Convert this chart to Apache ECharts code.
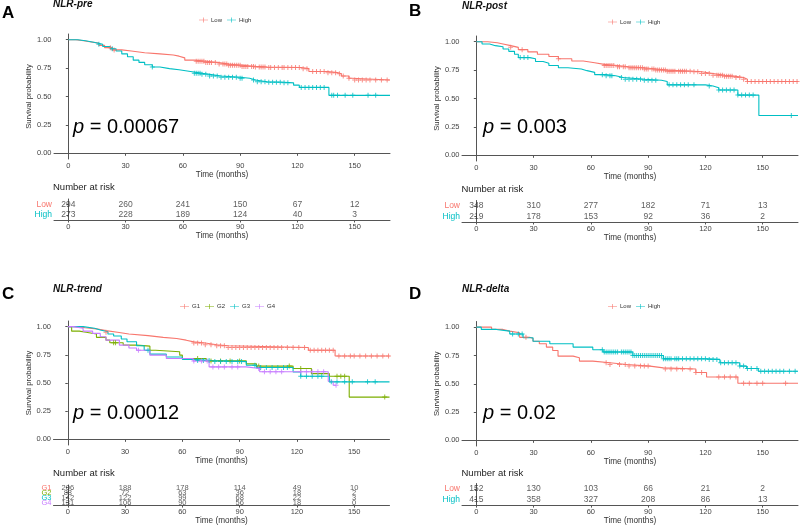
<!DOCTYPE html>
<html>
<head>
<meta charset="utf-8">
<script src="https://cdn.jsdelivr.net/npm/echarts@6.0.0/dist/echarts.min.js"></script>
<style>
  html, body { margin: 0; padding: 0; background: #fff; }
  #km { width: 800px; height: 526px; }
</style>
</head>
<body>
<div id="km"></div>
<script>
const FONT = '"Liberation Sans", Arial, sans-serif'
const lowCol = '#F8766D'
const highCol = '#00BFC4'
const gCols = ['#F8766D', '#7CAE00', '#00BFC4', '#C77CFF']

const xTicks = [0, 30, 60, 90, 120, 150]
const yTicks = [0, 0.25, 0.5, 0.75, 1]
const riskTimes = [0, 30, 60, 90, 120, 150]

// ---- A: NLR-pre ----
const preLow = [[0,1],[4,0.99],[8,0.98],[12,0.97],[16,0.95],[19,0.93],[23,0.91],[28,0.90],[33,0.885],[40,0.875],[48,0.865],[55,0.855],[58,0.84],[61,0.82],[66,0.81],[72,0.80],[78,0.785],[84,0.775],[91,0.765],[98,0.76],[104,0.755],[122,0.745],[126,0.72],[136,0.71],[141,0.70],[143,0.68],[147,0.66],[148.5,0.645],[168.5,0.645]]
const preHigh = [[0,1],[5,0.99],[9,0.975],[14,0.96],[18,0.94],[22,0.92],[25,0.90],[28,0.875],[31,0.85],[34,0.82],[37,0.80],[40,0.78],[44,0.76],[48,0.745],[53,0.735],[58,0.72],[64,0.705],[70,0.695],[74,0.68],[80,0.67],[90,0.66],[95,0.645],[98,0.63],[104,0.625],[113,0.62],[118,0.60],[121,0.58],[136.5,0.51],[168.5,0.51]]
const preLowCens = [22,24,67,68,69,70,71,72,73,74,75,77,79,81,82,83,84,85,86,87,88,89,90,91,92,93,94,96,97,98,100,101,102,103,105,106,108,110,112,113,115,117,119,121,123,125,128,130,132,134,136,138,140,142,144,147,150,152,154,156,158,161,164,167]
const preHighCens = [16,23,44,66,67,68,69,70,72,74,76,78,80,82,84,86,88,90,91,97,99,101,103,105,107,109,111,113,115,122,124,126,128,130,132,134,138,139,141,145,149,157,161]
const preLowRisk = [294, 260, 241, 150, 67, 12]
const preHighRisk = [273, 228, 189, 124, 40, 3]

// ---- B: NLR-post ----
const postLow = [[0,1],[6,0.99],[11,0.98],[14,0.965],[18,0.95],[22,0.93],[27,0.91],[32,0.89],[38,0.87],[43,0.85],[50,0.83],[56,0.815],[62,0.80],[67,0.79],[74,0.78],[80,0.77],[88,0.76],[94,0.75],[100,0.74],[114,0.735],[118,0.72],[124,0.705],[130,0.695],[136,0.685],[140,0.67],[142,0.65],[168.5,0.65]]
const postHigh = [[0,1],[3,0.98],[7,0.965],[10,0.955],[14,0.935],[17,0.915],[20,0.89],[22,0.86],[28,0.85],[31,0.825],[35,0.81],[38,0.79],[43,0.77],[48,0.76],[55,0.745],[58,0.73],[62,0.71],[68,0.70],[73,0.685],[77,0.67],[88,0.66],[97,0.65],[100,0.62],[120,0.61],[124,0.595],[127,0.575],[137,0.53],[148,0.35],[168.5,0.35]]
const postLowCens = [18,24,43,67,68,69,70,71,72,74,75,77,78,80,81,82,83,84,85,86,87,88,89,90,92,93,94,95,96,97,98,99,100,101,102,103,104,106,107,108,109,110,112,114,116,118,120,122,124,126,127,128,129,130,131,132,133,134,136,138,140,142,144,146,148,150,152,154,156,158,160,162,164,166,168]
const postHighCens = [23,25,27,66,68,70,71,76,78,80,82,84,86,88,90,92,94,101,103,105,107,109,111,114,122,127,129,131,133,135,137,139,141,143,145,165]
const postLowRisk = [348, 310, 277, 182, 71, 13]
const postHighRisk = [219, 178, 153, 92, 36, 2]

// ---- C: NLR-trend ----
const trendG1 = [[0,1],[4,0.99],[9,0.98],[15,0.965],[20,0.95],[26,0.935],[32,0.92],[42,0.905],[50,0.895],[57,0.88],[62,0.865],[66,0.855],[72,0.84],[78,0.83],[84,0.815],[126,0.79],[140,0.74],[168.5,0.74]]
const trendG2 = [[0,1],[2,0.96],[6,0.95],[9.6,0.935],[15,0.905],[20,0.88],[22,0.857],[29,0.836],[36,0.827],[43,0.79],[46,0.777],[58.6,0.747],[60,0.717],[72.5,0.696],[93.5,0.67],[98.8,0.65],[118,0.628],[127.6,0.583],[137,0.56],[147.4,0.375],[168.5,0.375]]
const trendG3 = [[0,1],[8,0.985],[14,0.97],[17,0.955],[21,0.935],[24,0.917],[28,0.89],[31,0.866],[36,0.83],[40,0.79],[43,0.756],[51.6,0.73],[60,0.71],[65.6,0.70],[76,0.69],[93.5,0.657],[98.8,0.637],[118,0.598],[122,0.56],[137,0.51],[168.5,0.51]]
const trendG4 = [[0,1],[3,0.985],[8,0.96],[13,0.94],[17,0.91],[20,0.88],[27,0.836],[32,0.81],[36,0.79],[43,0.747],[51.6,0.717],[65.6,0.696],[74,0.643],[93.5,0.628],[100.5,0.60],[136.4,0.515],[139,0.48],[140.5,0.48]]
const trendG1Cens = [20,66,68,70,72,75,78,80,82,84,86,88,90,92,94,96,98,100,102,104,106,108,110,112,115,118,121,124,127,129,131,133,135,137,139,142,145,148,150,153,156,159,162,165,168]
const trendG2Cens = [24,25,68,75,80,85,90,100,116,122,141,143,145,166]
const trendG3Cens = [42,68,71,74,77,80,83,86,89,91,98,101,104,107,110,113,115,122,125,128,131,133,138,141,145,149,157,161]
const trendG4Cens = [37,66,70,73,76,79,82,86,89,100,103,106,109,112,122,125,128,131,134,140.5]
const trendG1Risk = [206, 188, 178, 114, 49, 10]
const trendG2Risk = [88, 72, 63, 36, 18, 2]
const trendG3Risk = [142, 122, 99, 68, 22, 3]
const trendG4Risk = [131, 106, 90, 56, 18, 0]

// ---- D: NLR-delta ----
const deltaLow = [[0,1],[8,0.98],[14,0.965],[17.5,0.95],[22.7,0.91],[28,0.90],[29.7,0.876],[33,0.853],[36.7,0.824],[40,0.794],[42.8,0.744],[50.7,0.73],[54,0.70],[61,0.685],[70,0.67],[78.7,0.656],[91,0.64],[98,0.63],[115,0.60],[120.6,0.56],[137,0.505],[168.5,0.505]]
const deltaHigh = [[0,1],[2.6,0.98],[10.5,0.965],[17.5,0.94],[24.5,0.906],[29.7,0.876],[38.5,0.853],[50.7,0.824],[61,0.80],[66.4,0.78],[82,0.75],[98,0.72],[122,0.715],[127.6,0.685],[138,0.656],[141.6,0.635],[147.7,0.61],[168.5,0.61]]
const deltaLowCens = [26,68,70,75,78,80,83,86,88,90,99,102,105,108,112,115,118,127,130,133,136,140,143,147,150,162]
const deltaHighCens = [19,22,24,66,67,68,69,70,71,72,73,74,76,77,78,79,80,81,82,83,84,85,86,87,88,89,90,91,92,93,94,95,96,97,98,99,100,101,102,104,105,106,108,110,112,114,116,118,120,122,124,126,128,130,132,134,136,138,140,142,144,147,149,151,153,155,157,159,161,164,167]
const deltaLowRisk = [152, 130, 103, 66, 21, 2]
const deltaHighRisk = [415, 358, 327, 208, 86, 13]

// step value of a curve at time t (used to sit censor marks on the curve)
const stepAt = (curve, t) => {
  let y = curve[0][1]
  curve.forEach(([x, v]) => { if (x <= t) y = v })
  return y
}

const panels = [
  { letter: 'A', title: 'NLR-pre', p: '0.00067',
    main: { left: 54, top: 34, height: 125 }, risk: { left: 54, top: 199, height: 21 },
    letterPos: [2, 5], titlePos: [53, -1], legendPos: [199, 17], pPos: [73, 117], nrPos: [53, 182.5],
    riskFont: 8.5,
    groups: [
      { name: 'Low', color: lowCol, curve: preLow, cens: preLowCens, risk: preLowRisk },
      { name: 'High', color: highCol, curve: preHigh, cens: preHighCens, risk: preHighRisk }
    ] },
  { letter: 'B', title: 'NLR-post', p: '0.003',
    main: { left: 462, top: 36, height: 125 }, risk: { left: 462, top: 200.5, height: 21.5 },
    letterPos: [409, 3], titlePos: [462, 1], legendPos: [608, 19], pPos: [483, 117.5], nrPos: [461.5, 184],
    riskFont: 8.5,
    groups: [
      { name: 'Low', color: lowCol, curve: postLow, cens: postLowCens, risk: postLowRisk },
      { name: 'High', color: highCol, curve: postHigh, cens: postHighCens, risk: postHighRisk }
    ] },
  { letter: 'C', title: 'NLR-trend', p: '0.00012',
    main: { left: 53.5, top: 321, height: 124 }, risk: { left: 53.5, top: 485, height: 21 },
    letterPos: [2, 286], titlePos: [53, 284.5], legendPos: [180, 303.5], pPos: [73, 403], nrPos: [53, 468.5],
    riskFont: 7.5,
    groups: [
      { name: 'G1', color: gCols[0], curve: trendG1, cens: trendG1Cens, risk: trendG1Risk },
      { name: 'G2', color: gCols[1], curve: trendG2, cens: trendG2Cens, risk: trendG2Risk },
      { name: 'G3', color: gCols[2], curve: trendG3, cens: trendG3Cens, risk: trendG3Risk },
      { name: 'G4', color: gCols[3], curve: trendG4, cens: trendG4Cens, risk: trendG4Risk }
    ] },
  { letter: 'D', title: 'NLR-delta', p: '0.02',
    main: { left: 462, top: 321.5, height: 124.5 }, risk: { left: 462, top: 483.5, height: 22.5 },
    letterPos: [409, 286], titlePos: [462, 284.5], legendPos: [608, 303.5], pPos: [483, 403], nrPos: [461.5, 468.5],
    riskFont: 8.5,
    groups: [
      { name: 'Low', color: lowCol, curve: deltaLow, cens: deltaLowCens, risk: deltaLowRisk },
      { name: 'High', color: highCol, curve: deltaHigh, cens: deltaHighCens, risk: deltaHighRisk }
    ] }
]

const PLOT_W = 336
const axisCol = '#555'
const plusSym = 'path://M0,4h10v2h-10z M4,0h2v10h-2z'
const legendIcon = 'path://M0,4.4h18v1.2h-18z M8.4,0h1.2v10h-1.2z'

const grid = [], xAxis = [], yAxis = [], series = [], legend = [], title = []

const timeAxis = (gi) => ({
  type: 'value', gridIndex: gi, min: -7.5, max: 168.5,
  name: 'Time (months)', nameLocation: 'middle', nameGap: 11,
  nameTextStyle: { fontSize: 8.2, color: '#333', fontFamily: FONT },
  axisLine: { show: true, lineStyle: { color: axisCol, width: 1 } },
  axisTick: { show: true, length: 2.5, customValues: xTicks, lineStyle: { color: axisCol } },
  axisLabel: { customValues: xTicks, fontSize: 7.5, color: '#444', margin: 3, fontFamily: FONT },
  splitLine: { show: false }
})

panels.forEach((pn, k) => {
  const gMain = k * 2, gRisk = k * 2 + 1
  grid.push({ left: pn.main.left, top: pn.main.top, width: PLOT_W, height: pn.main.height })
  grid.push({ left: pn.risk.left, top: pn.risk.top, width: PLOT_W, height: pn.risk.height })

  xAxis.push(timeAxis(gMain))
  xAxis.push(timeAxis(gRisk))

  yAxis.push({
    type: 'value', gridIndex: gMain, min: -0.05, max: 1.05,
    name: 'Survival probability', nameLocation: 'middle', nameGap: 20,
    nameTextStyle: { fontSize: 7.7, color: '#333', fontFamily: FONT },
    axisLine: { show: true, lineStyle: { color: axisCol, width: 1 } },
    axisTick: { show: true, length: 2.5, customValues: yTicks, lineStyle: { color: axisCol } },
    axisLabel: { customValues: yTicks, fontSize: 7.5, color: '#444', margin: 2.5, fontFamily: FONT,
      formatter: v => v.toFixed(2) },
    splitLine: { show: false }
  })

  const names = pn.groups.map(g => g.name)
  const colorOf = {}
  pn.groups.forEach(g => { colorOf[g.name] = g.color })
  yAxis.push({
    type: 'category', gridIndex: gRisk, data: names.slice().reverse(),
    axisLine: { show: true, lineStyle: { color: axisCol, width: 1 } },
    axisTick: { show: true, length: 2, alignWithLabel: true, interval: 0, lineStyle: { color: axisCol } },
    axisLabel: { interval: 0, fontSize: pn.riskFont, margin: 2, fontFamily: FONT, color: v => colorOf[v] },
    splitLine: { show: false }
  })

  pn.groups.forEach(g => {
    series.push({
      name: g.name, type: 'line', step: 'end', xAxisIndex: gMain, yAxisIndex: gMain,
      data: g.curve, showSymbol: false, silent: true, z: 3,
      lineStyle: { color: g.color, width: 1.1 }, itemStyle: { color: g.color }
    })
    series.push({
      name: g.name, type: 'scatter', xAxisIndex: gMain, yAxisIndex: gMain,
      data: g.cens.map(t => [t, stepAt(g.curve, t)]),
      symbol: plusSym, symbolSize: 5, silent: true, z: 4,
      itemStyle: { color: g.color }
    })
    series.push({
      name: 'risk-' + pn.letter + '-' + g.name, type: 'scatter', xAxisIndex: gRisk, yAxisIndex: gRisk,
      data: riskTimes.map((t, i) => [t, g.name, g.risk[i]]),
      symbolSize: 0, silent: true,
      label: { show: true, position: 'inside', formatter: p => p.value[2],
        fontSize: pn.riskFont, color: '#333', fontFamily: FONT }
    })
  })

  legend.push({
    data: names, left: pn.legendPos[0], top: pn.legendPos[1], padding: 0,
    icon: legendIcon, itemWidth: 9, itemHeight: 6, itemGap: 5, selectedMode: false,
    textStyle: { fontSize: 6, color: '#333', fontFamily: FONT, padding: [0, 0, 0, -2] }
  })

  title.push({ text: pn.letter, left: pn.letterPos[0], top: pn.letterPos[1], padding: 0,
    textStyle: { fontSize: 17, fontWeight: 'bold', color: '#000', fontFamily: FONT } })
  title.push({ text: pn.title, left: pn.titlePos[0], top: pn.titlePos[1], padding: 0,
    textStyle: { fontSize: 10, fontWeight: 'bold', fontStyle: 'italic', color: '#111', fontFamily: FONT } })
  title.push({ text: '{i|p} = ' + pn.p, left: pn.pPos[0], top: pn.pPos[1], padding: 0,
    textStyle: { fontSize: 20, fontWeight: 'normal', color: '#000', fontFamily: FONT,
      rich: { i: { fontSize: 20, fontStyle: 'italic', color: '#000', fontFamily: FONT } } } })
  title.push({ text: 'Number at risk', left: pn.nrPos[0], top: pn.nrPos[1], padding: 0,
    textStyle: { fontSize: 9.5, fontWeight: 'normal', color: '#222', fontFamily: FONT } })
})

const option = {
  backgroundColor: '#fff',
  animation: false,
  title, legend, grid, xAxis, yAxis, series
}

const myChart = echarts.init(document.getElementById('km'), null, { renderer: 'canvas' })
myChart.setOption(option)
</script>
</body>
</html>
